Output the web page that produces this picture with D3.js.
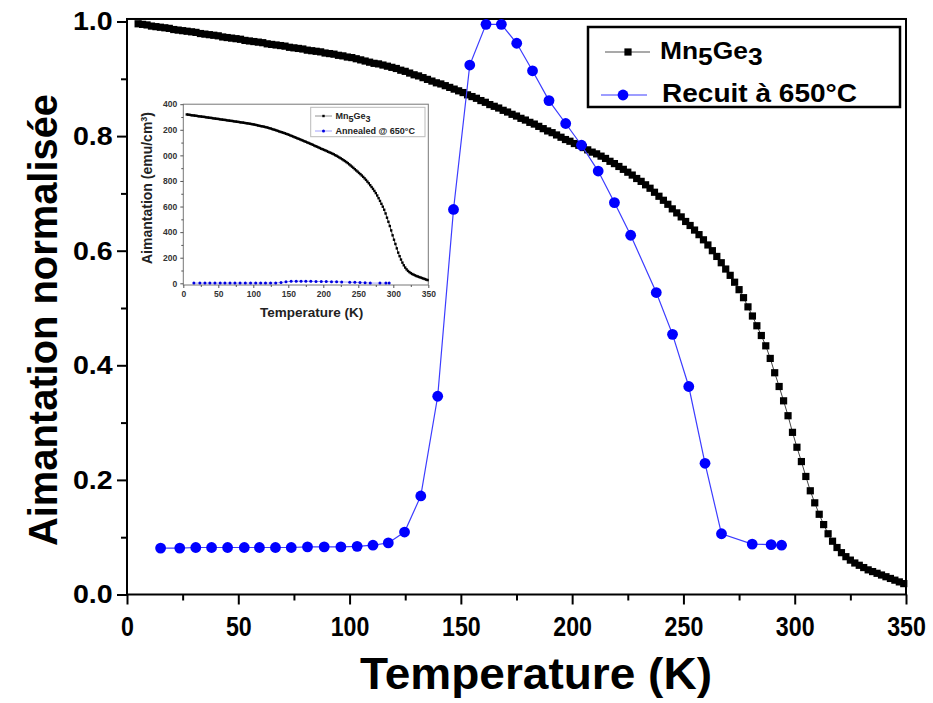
<!DOCTYPE html>
<html><head><meta charset="utf-8">
<script src="https://cdn.jsdelivr.net/npm/d3@7"></script>
<style>
body{margin:0;background:#fff;}
svg{display:block;font-family:"Liberation Sans",Arial,Helvetica,sans-serif;font-weight:bold;}
</style>
</head><body>
<svg id="chart" width="933" height="703"></svg>
<script>
// ---------------- DATA ----------------
const seriesNames = ["Mn5Ge3", "Recuit à 650°C"];
const insetSeriesNames = ["Mn5Ge3", "Annealed @ 650°C"];

// Mn5Ge3 : temperature (K)
const mnT = [5,7,9,11,13,15,17,19,21,23,25,27,29,31,33,35,37,39,41,43,45,47,49,51,53,55,57,59,61,63,65,67,69,71,73,75,77,79,81,83,85,87,89,91,93,95,97,99,101,103,105,107,109,111,113,115,117,119,121,123,125,127,129,131,133,135,137,139,141,143,145,147,149,151,153,155,157,159,161,163,165,167,169,171,173,175,177,179,181,183,185,187,189,191,193,195,197,199,201,203,205,207,209,211,213,215,217,219,221,223,225,227,229,231,233,235,237,239,241,243,245,247,249,251,253,255,257,259,261,263,265,267,269,271,273,275,277,279,281,283,285,287,289,291,293,295,297,299,301,303,305,307,309,311,313,315,317,319,321,323,325,327,329,331,333,335,337,339,341,343,345,347,349];
// Mn5Ge3 : normalised magnetisation
const mnM = [0.996,0.995,0.994,0.992,0.991,0.990,0.989,0.988,0.986,0.985,0.984,0.983,0.982,0.981,0.979,0.978,0.977,0.976,0.975,0.973,0.972,0.971,0.970,0.969,0.967,0.966,0.965,0.964,0.963,0.961,0.960,0.959,0.958,0.957,0.955,0.954,0.953,0.952,0.950,0.949,0.948,0.947,0.945,0.944,0.943,0.941,0.940,0.938,0.937,0.935,0.933,0.931,0.929,0.927,0.926,0.924,0.922,0.920,0.918,0.915,0.913,0.910,0.907,0.905,0.902,0.899,0.896,0.893,0.891,0.888,0.885,0.882,0.879,0.876,0.872,0.869,0.866,0.862,0.859,0.855,0.852,0.849,0.845,0.842,0.838,0.835,0.831,0.828,0.824,0.821,0.817,0.813,0.809,0.806,0.802,0.798,0.794,0.791,0.787,0.784,0.780,0.776,0.772,0.769,0.765,0.761,0.756,0.752,0.747,0.742,0.737,0.732,0.726,0.721,0.715,0.709,0.702,0.695,0.688,0.681,0.673,0.666,0.659,0.651,0.644,0.636,0.628,0.619,0.610,0.600,0.590,0.579,0.568,0.557,0.545,0.532,0.518,0.502,0.486,0.469,0.452,0.434,0.412,0.387,0.363,0.338,0.312,0.283,0.257,0.232,0.206,0.181,0.160,0.140,0.122,0.106,0.093,0.082,0.073,0.066,0.060,0.055,0.051,0.047,0.043,0.040,0.037,0.034,0.031,0.028,0.025,0.022,0.019];

// Recuit à 650°C : temperature (K)
const annT = [15.1,23.7,30.9,38.0,45.2,52.7,59.5,66.7,73.8,81.1,88.6,96.1,103.4,110.5,117.4,124.7,132.0,139.6,146.7,154.0,161.3,168.2,175.1,182.2,189.6,197.1,204.2,211.7,219.0,226.3,237.8,245.1,252.4,259.7,267.1,280.9,289.4,294.1];
// Recuit à 650°C : normalised magnetisation
const annM = [0.081,0.081,0.082,0.082,0.082,0.082,0.082,0.082,0.082,0.083,0.083,0.083,0.084,0.086,0.090,0.109,0.172,0.346,0.672,0.924,0.995,0.995,0.962,0.914,0.862,0.822,0.784,0.739,0.684,0.627,0.527,0.454,0.363,0.229,0.106,0.088,0.087,0.086];

// main axes ticks
const xTicks = [0,50,100,150,200,250,300,350];
const xTickLabels = ["0","50","100","150","200","250","300","350"];
const xMinorTicks = [25,75,125,175,225,275,325];
const yTicks = [0,0.2,0.4,0.6,0.8,1.0];
const yTickLabels = ["0.0","0.2","0.4","0.6","0.8","1.0"];
const yMinorTicks = [0.1,0.3,0.5,0.7,0.9];

// inset (emu/cm3) - labels as visible in the cropped inset
const insetMsMn = 1325;
const insetMsAnn = 17;
const insetXTicks = [0,50,100,150,200,250,300,350];
const insetXTickLabels = ["0","50","100","150","200","250","300","350"];
const insetXMinor = [25,75,125,175,225,275,325];
const insetYTicks = [0,200,400,600,800,1000,1200,1400];
const insetYTickLabels = ["0","200","400","600","800","000","200","400"];
const insetYMinor = [100,300,500,700,900,1100,1300];

// ---------------- DRAW ----------------
const svg = d3.select("#chart");
const x = d3.scaleLinear().domain([0,350]).range([127,906]);
const y = d3.scaleLinear().domain([0,1]).range([594.5,21.5]);

// frame
svg.append("rect").attr("x",x(0)).attr("y",y(1.0044)).attr("width",x(350)-x(0)).attr("height",y(0)-y(1.0044))
  .attr("fill","none").attr("stroke","#000").attr("stroke-width",2);

function styleAxis(g, w){
  g.select(".domain").remove();
  g.selectAll(".tick line").attr("stroke","#000").attr("stroke-width",w);
}
// x axis
const gx = svg.append("g").attr("transform",`translate(0,${y(0)})`)
  .call(d3.axisBottom(x).tickValues(xTicks).tickSize(10).tickPadding(12).tickFormat((d,i)=>xTickLabels[i]));
styleAxis(gx,2);
gx.selectAll(".tick text").attr("font-size",27).attr("fill","#000").attr("font-family","Liberation Sans, Arial, sans-serif")
  .attr("font-weight","bold").attr("transform","scale(0.86,1)");
const gxm = svg.append("g").attr("transform",`translate(0,${y(0)})`)
  .call(d3.axisBottom(x).tickValues(xMinorTicks).tickSize(6).tickFormat(""));
styleAxis(gxm,2);

// y axis
const gy = svg.append("g").attr("transform",`translate(${x(0)},0)`)
  .call(d3.axisLeft(y).tickValues(yTicks).tickSize(10).tickPadding(3).tickFormat((d,i)=>yTickLabels[i]));
styleAxis(gy,2);
gy.selectAll(".tick text").attr("font-size",26).attr("fill","#000").attr("font-family","Liberation Sans, Arial, sans-serif")
  .attr("font-weight","bold").attr("transform","scale(1.1,1)");
const gym = svg.append("g").attr("transform",`translate(${x(0)},0)`)
  .call(d3.axisLeft(y).tickValues(yMinorTicks).tickSize(6).tickFormat(""));
styleAxis(gym,2);

// axis titles
svg.append("text").attr("x",536).attr("y",689).attr("text-anchor","middle").attr("font-size",45)
  .attr("textLength",352).attr("lengthAdjust","spacingAndGlyphs").text("Temperature (K)");
svg.append("text").attr("transform","translate(57,320) rotate(-90)").attr("text-anchor","middle").attr("font-size",40)
  .attr("textLength",452).attr("lengthAdjust","spacingAndGlyphs").text("Aimantation normalisée");

// Mn5Ge3 series
const mnData = mnT.map((t,i)=>({t, m:mnM[i]}));
const line = d3.line().x(d=>x(d.t)).y(d=>y(d.m));
svg.append("path").datum(mnData).attr("d",line).attr("fill","none").attr("stroke","#444").attr("stroke-width",1);
svg.append("g").selectAll("rect").data(mnData).join("rect")
  .attr("x",d=>x(d.t)-3.6).attr("y",d=>y(d.m)-3.6).attr("width",7.2).attr("height",7.2).attr("fill","#000");

// Annealed series
const annData = annT.map((t,i)=>({t, m:annM[i]}));
svg.append("path").datum(annData).attr("d",line).attr("fill","none").attr("stroke","#3c3cff").attr("stroke-width",1.2);
svg.append("g").selectAll("circle").data(annData).join("circle")
  .attr("cx",d=>x(d.t)).attr("cy",d=>y(d.m)).attr("r",5.4).attr("fill","#0000ff");

// main legend
const lg = svg.append("g");
lg.append("rect").attr("x",588).attr("y",27).attr("width",312).attr("height",80).attr("fill","#fff").attr("stroke","#000").attr("stroke-width",2.5);
lg.append("line").attr("x1",605).attr("x2",650).attr("y1",52).attr("y2",52).attr("stroke","#555").attr("stroke-width",1.2);
lg.append("rect").attr("x",628-3.6).attr("y",52-3.6).attr("width",7.2).attr("height",7.2).attr("fill","#000");
const t1 = lg.append("text").attr("transform","translate(660,59) scale(1.1,1)").attr("font-size",24);
t1.append("tspan").text("Mn");
t1.append("tspan").attr("dy",6).text("5");
t1.append("tspan").attr("dy",-6).text("Ge");
t1.append("tspan").attr("dy",6).text("3");
lg.append("line").attr("x1",601).attr("x2",647).attr("y1",95).attr("y2",95).attr("stroke","#3c3cff").attr("stroke-width",1.2);
lg.append("circle").attr("cx",623).attr("cy",95).attr("r",5.4).attr("fill","#0000ff");
lg.append("text").attr("x",662).attr("y",102).attr("font-size",25.5).attr("textLength",195).attr("lengthAdjust","spacingAndGlyphs").text(seriesNames[1]);

// ---------------- INSET ----------------
const ix = d3.scaleLinear().domain([0,350]).range([183.3,428.3]);
const iy = d3.scaleLinear().domain([0,1400]).range([283.3,104.2]);
const ins = svg.append("g").attr("fill","#333");
ins.append("rect").attr("x",ix(0)).attr("y",iy(1400)).attr("width",ix(350)-ix(0)).attr("height",285-iy(1400))
  .attr("fill","#fff").attr("stroke","#777").attr("stroke-width",1);

function styleInset(g){
  g.select(".domain").remove();
  g.selectAll(".tick line").attr("stroke","#555").attr("stroke-width",1);
  g.selectAll(".tick text").attr("font-size",8.5).attr("fill","#333").attr("font-weight","bold")
    .attr("font-family","Liberation Sans, Arial, sans-serif");
}
const igx = ins.append("g").attr("transform","translate(0,285)")
  .call(d3.axisBottom(ix).tickValues(insetXTicks).tickSize(3).tickPadding(3).tickFormat((d,i)=>insetXTickLabels[i]));
styleInset(igx);
const igxm = ins.append("g").attr("transform","translate(0,285)")
  .call(d3.axisBottom(ix).tickValues(insetXMinor).tickSize(2).tickFormat(""));
styleInset(igxm);
const igy = ins.append("g").attr("transform",`translate(${ix(0)},0)`)
  .call(d3.axisLeft(iy).tickValues(insetYTicks).tickSize(3).tickPadding(3).tickFormat((d,i)=>insetYTickLabels[i]));
styleInset(igy);
const igym = ins.append("g").attr("transform",`translate(${ix(0)},0)`)
  .call(d3.axisLeft(iy).tickValues(insetYMinor).tickSize(2).tickFormat(""));
styleInset(igym);

ins.append("text").attr("x",311.7).attr("y",316.5).attr("text-anchor","middle").attr("font-size",13.5).attr("fill","#222")
  .text("Temperature (K)");
const iyt = ins.append("text").attr("transform","translate(151.5,188) rotate(-90)").attr("text-anchor","middle")
  .attr("font-size",14).attr("fill","#222");
iyt.append("tspan").text("Aimantation (emu/cm");
iyt.append("tspan").attr("dy",-5).attr("font-size",9).text("3");
iyt.append("tspan").attr("dy",5).text(")");

const iline = d3.line().x(d=>ix(d.t)).y(d=>iy(d.v));
const imn = mnData.map(d=>({t:d.t, v:d.m*insetMsMn}));
ins.append("path").datum(imn).attr("d",iline).attr("fill","none").attr("stroke","#111").attr("stroke-width",0.8);
ins.append("g").selectAll("rect").data(imn).join("rect")
  .attr("x",d=>ix(d.t)-1.2).attr("y",d=>iy(d.v)-1.2).attr("width",2.4).attr("height",2.4).attr("fill","#000");
const iann = annData.map(d=>({t:d.t, v:d.m*insetMsAnn}));
ins.append("path").datum(iann).attr("d",iline).attr("fill","none").attr("stroke","#6a6aff").attr("stroke-width",0.6);
ins.append("g").selectAll("circle").data(iann).join("circle")
  .attr("cx",d=>ix(d.t)).attr("cy",d=>iy(d.v)).attr("r",1.5).attr("fill","#0000e0");

// inset legend
const il = ins.append("g");
il.append("rect").attr("x",310.7).attr("y",107.3).attr("width",114.3).attr("height",29.4).attr("fill","#fff").attr("stroke","#bbb").attr("stroke-width",1);
il.append("line").attr("x1",315).attr("x2",332).attr("y1",116).attr("y2",116).attr("stroke","#777").attr("stroke-width",0.8);
il.append("rect").attr("x",322.3).attr("y",114.8).attr("width",2.4).attr("height",2.4).attr("fill","#000");
const it1 = il.append("text").attr("x",335.5).attr("y",119).attr("font-size",9).attr("fill","#222");
it1.append("tspan").text("Mn");
it1.append("tspan").attr("dy",2.5).text("5");
it1.append("tspan").attr("dy",-2.5).text("Ge");
it1.append("tspan").attr("dy",2.5).text("3");
il.append("line").attr("x1",315).attr("x2",332).attr("y1",131).attr("y2",131).attr("stroke","#8888ff").attr("stroke-width",0.8);
il.append("circle").attr("cx",323.5).attr("cy",131).attr("r",1.5).attr("fill","#0000e0");
il.append("text").attr("x",335.5).attr("y",134.2).attr("font-size",9).attr("fill","#222").text(insetSeriesNames[1]);
</script>
</body></html>
